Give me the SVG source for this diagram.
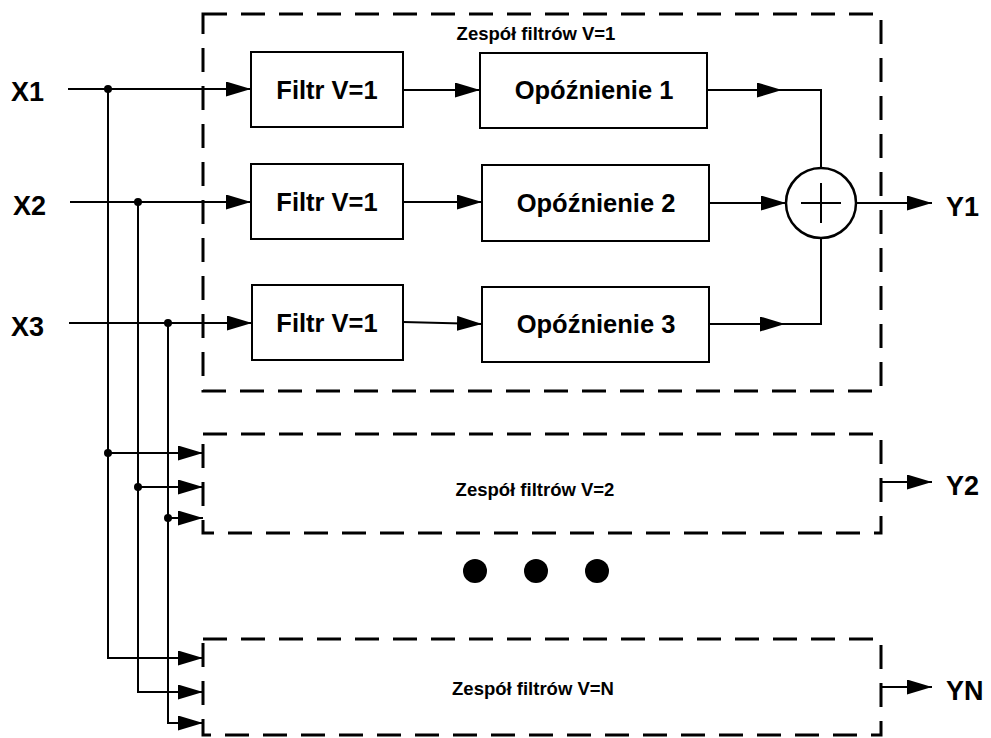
<svg xmlns="http://www.w3.org/2000/svg" width="991" height="738" viewBox="0 0 991 738">
<defs>
<marker id="ah" markerUnits="userSpaceOnUse" markerWidth="26" markerHeight="16" refX="25" refY="7.5" orient="auto">
<path d="M0,0 L25,7.5 L0,15 z" fill="#000"/>
</marker>
<style>
.box{fill:#fff;stroke:#000;stroke-width:2}
.dash{fill:none;stroke:#000;stroke-width:3;stroke-dasharray:24 14}
.ln{fill:none;stroke:#000;stroke-width:2}
.arr{fill:none;stroke:#000;stroke-width:2;marker-end:url(#ah)}
.t{font-family:"Liberation Sans",Arial,sans-serif;font-weight:bold;fill:#000}
.big{font-size:27px}
.lbl{font-size:25.5px;text-anchor:middle}
.grp{font-size:18.5px;text-anchor:middle}
</style>
</defs>
<rect width="991" height="738" fill="#fff"/>
<g id="bank1"><rect class="dash" x="203" y="14" width="678" height="377"/><text class="t grp" x="536" y="40">Zespół filtrów V=1</text></g>
<g id="bank2"><rect class="dash" x="203" y="434" width="678" height="99"/><text class="t grp" x="535" y="496">Zespół filtrów V=2</text></g>
<g id="bankN"><rect class="dash" x="203" y="639" width="678" height="96"/><text class="t grp" x="533" y="695">Zespół filtrów V=N</text></g>
<g id="f1"><rect class="box" x="251" y="52" width="152" height="75"/><text class="t lbl" x="327" y="99">Filtr V=1</text></g>
<g id="f2"><rect class="box" x="251" y="164" width="152" height="75"/><text class="t lbl" x="327" y="211">Filtr V=1</text></g>
<g id="f3"><rect class="box" x="252" y="285" width="151" height="75"/><text class="t lbl" x="327" y="332">Filtr V=1</text></g>
<g id="d1"><rect class="box" x="480" y="53" width="227" height="75"/><text class="t lbl" x="594" y="99">Opóźnienie 1</text></g>
<g id="d2"><rect class="box" x="482" y="165" width="227" height="76"/><text class="t lbl" x="596" y="212">Opóźnienie 2</text></g>
<g id="d3"><rect class="box" x="482" y="287" width="227" height="75"/><text class="t lbl" x="596" y="333">Opóźnienie 3</text></g>
<g id="sum"><circle cx="821" cy="203" r="35" fill="#fff" stroke="#000" stroke-width="2.5"/><path class="ln" d="M801,203 H841 M821,183 V223" stroke-width="2.5"/></g>
<g id="labels">
<text class="t big" x="11" y="101">X1</text>
<text class="t big" x="13" y="215">X2</text>
<text class="t big" x="11" y="336">X3</text>
<text class="t big" x="946" y="216">Y1</text>
<text class="t big" x="946" y="495">Y2</text>
<text class="t big" x="946" y="700">YN</text>
</g>
<g id="dots"><circle cx="475" cy="571" r="12"/><circle cx="536" cy="571" r="12"/><circle cx="597" cy="571" r="12"/></g>
<g id="connectors">
<line class="arr" x1="68" y1="89" x2="251" y2="89"/>
<line class="arr" x1="70" y1="202" x2="251" y2="202"/>
<line class="arr" x1="69" y1="323" x2="252" y2="323"/>
<polyline class="arr" points="108,89 108,658 203,658"/>
<polyline class="arr" points="138,202 138,692 203,692"/>
<polyline class="arr" points="168,323 168,723 203,723"/>
<line class="arr" x1="108" y1="453" x2="203" y2="453"/>
<line class="arr" x1="138" y1="487" x2="203" y2="487"/>
<line class="arr" x1="168" y1="518" x2="203" y2="518"/>
<circle cx="108" cy="89" r="4"/><circle cx="138" cy="202" r="4"/><circle cx="168" cy="323" r="4"/>
<circle cx="108" cy="453" r="4"/><circle cx="138" cy="487" r="4"/><circle cx="168" cy="518" r="4"/>
<line class="arr" x1="403" y1="90" x2="480" y2="90"/>
<line class="arr" x1="403" y1="202" x2="482" y2="202"/>
<line class="arr" x1="403" y1="322" x2="482" y2="324"/>
<line class="arr" x1="707" y1="90" x2="782" y2="90"/>
<polyline class="ln" points="782,90 821,90 821,168"/>
<line class="arr" x1="709" y1="203" x2="786" y2="203"/>
<line class="arr" x1="709" y1="324" x2="785" y2="324"/>
<polyline class="ln" points="785,324 821,324 821,238"/>
<line class="arr" x1="856" y1="203" x2="932" y2="203"/>
<line class="arr" x1="881" y1="482" x2="932" y2="482"/>
<line class="arr" x1="881" y1="687" x2="932" y2="687"/>
</g>
</svg>
